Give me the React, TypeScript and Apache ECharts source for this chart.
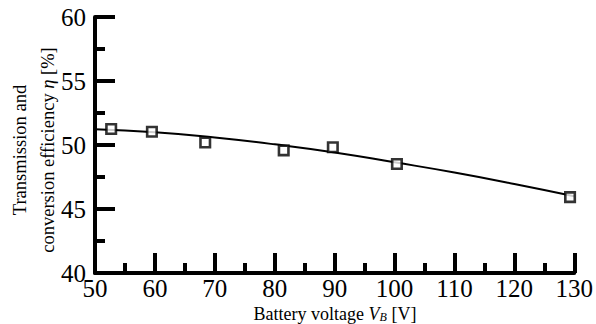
import React, { useEffect, useRef } from "react";
import * as echarts from "echarts";

const xTicks = [50, 60, 70, 80, 90, 100, 110, 120, 130];
const yTicks = [40, 45, 50, 55, 60];
const measuredV = [52.7, 59.5, 68.4, 81.5, 89.7, 100.4, 129.3];
const measuredEta = [51.25, 51.04, 50.2, 49.58, 49.83, 48.52, 45.93];
const fitV = [50, 60, 70, 80, 90, 100, 110, 120, 130];
const fitEta = [51.23, 51.0, 50.58, 50.05, 49.42, 48.65, 47.85, 46.96, 46.0];

const FAMILY = "Liberation Serif, Times New Roman, serif";

export default function App() {
  const ref = useRef<HTMLDivElement>(null);
  useEffect(() => {
    if (!ref.current) return;
    const chart = echarts.init(ref.current, null, { renderer: "svg" });
    const axisCommon = {
      axisLine: { show: true, onZero: false, lineStyle: { color: "#000", width: 4 } },
      axisTick: { show: true, inside: true, length: 20, lineStyle: { color: "#000", width: 4 } },
      minorTick: { show: true, splitNumber: 2, length: 10, lineStyle: { color: "#000", width: 4 } },
      splitLine: { show: false },
      minorSplitLine: { show: false },
    };
    const tickLabel = (margin: number) => ({
      color: "#000",
      fontFamily: FAMILY,
      fontSize: 25,
      margin,
      textStyle: { fontFamily: FAMILY },
    });
    chart.setOption({
      animation: false,
      textStyle: { fontFamily: FAMILY },
      grid: { left: 95, right: 21, top: 17, bottom: 51, containLabel: false },
      xAxis: {
        type: "value",
        min: xTicks[0],
        max: xTicks[xTicks.length - 1],
        interval: 10,
        ...axisCommon,
        axisLabel: tickLabel(3),
      },
      yAxis: {
        type: "value",
        min: yTicks[0],
        max: yTicks[yTicks.length - 1],
        interval: 5,
        ...axisCommon,
        axisLabel: tickLabel(9),
      },
      graphic: [
        {
          type: "text",
          x: 335,
          y: 314,
          style: {
            text: "Battery voltage {i|V}{sub|B} [V]",
            fontFamily: FAMILY,
            fontSize: 18,
            fill: "#000",
            align: "center",
            verticalAlign: "middle",
            rich: {
              i: { fontStyle: "italic", fontSize: 18, fontFamily: FAMILY },
              sub: { fontStyle: "italic", fontSize: 12, fontFamily: FAMILY, verticalAlign: "bottom", lineHeight: 10 },
            },
          },
        },
        {
          type: "text",
          x: 34,
          y: 150,
          rotation: Math.PI / 2,
          style: {
            text: "Transmission and\nconversion efficiency {i|η} [%]",
            fontFamily: FAMILY,
            fontSize: 18.5,
            fill: "#000",
            align: "center",
            verticalAlign: "middle",
            lineHeight: 28,
            rich: {
              i: { fontStyle: "italic", fontSize: 18.5, fontFamily: FAMILY, lineHeight: 28 },
            },
          },
        },
      ],
      series: [
        {
          type: "line",
          data: fitV.map((v, i) => [v, fitEta[i]]),
          smooth: true,
          showSymbol: false,
          lineStyle: { color: "#000", width: 2 },
          z: 2,
        },
        {
          type: "scatter",
          data: measuredV.map((v, i) => [v, measuredEta[i]]),
          symbol: "rect",
          symbolSize: 9.5,
          itemStyle: { color: "#fff", borderColor: "#000", borderWidth: 2.6 },
          z: 3,
        },
      ],
    });
    return () => chart.dispose();
  }, []);
  return <div ref={ref} style={{ width: 596, height: 324, position: "absolute", left: 0, top: 0 }} />;
}
